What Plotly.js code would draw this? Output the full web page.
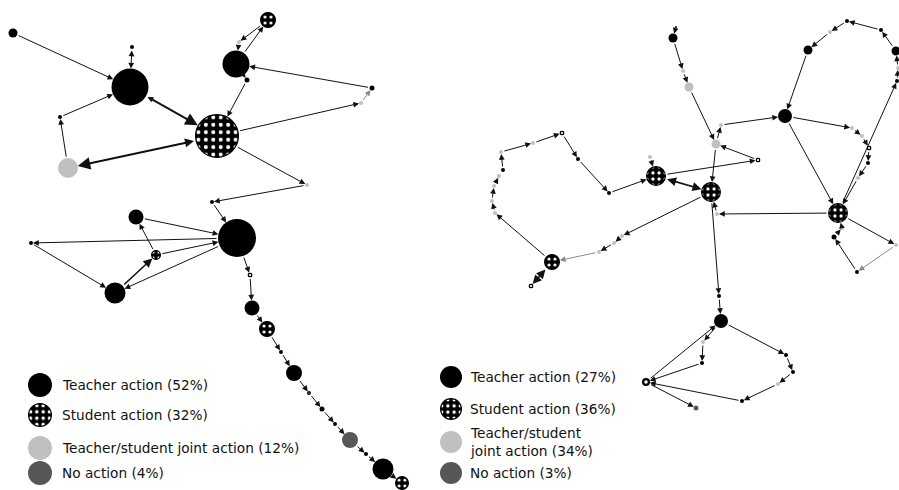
<!DOCTYPE html>
<html><head><meta charset="utf-8">
<script src="https://cdn.plot.ly/plotly-3.0.1.min.js"></script>
<style>html,body{margin:0;padding:0;background:#fff}#chart{width:899px;height:490px}</style>
</head><body><div id="chart"></div>
<script>
// ---- categories / legend ----
const categories = ['Teacher action','Student action','Teacher/student joint action','No action'];
const categoryCodes = ['T','S','J','N'];
const leftShares = [52,32,12,4];
const rightShares = [27,36,34,3];

// ---- nodes (layout coordinates, size = frequency, type) ----
const nodeId = ['A','B','C','D','E','F','G','H','I','J','K','L','M','N','O','P','Q','R','S','T','U','V','W','X','Y','Z','AA','AB','AC','AD','AE',
 'r1','r2','r3','r4','r5','r6','r7','r8','r9','r10','r11','r12','r13','r14','r15','r16','r17','r18','r19','r20','r21','r22','r23','r24','r25','r26','r27','r28','r29','r30','r31','r32','r33','r34','r35','r36','r37','r38','r39','r40','r41','r42','r43','r44','r45','r46','r47','r48','r49','r50','r51','r52','r53','r54'];
const nodeX = [13,130,132,60,68,217,236,268,239,247,372,361,307,212,237,136,31,156,115,250,252,267,281,294,309,322,335,350,366,383,402,
 676,673,683,689,716,721,785,758,650,656,711,717,838,719,609,578,562,533,501,503,499,494,492,495,552,531,599,614,622,808,830,847,881,896,898,897,852,862,869,868,858,842,834,896,857,721,703,702,646,742,696,786,793,778];
const nodeY = [33,87,47,117,168,136,64,20,42,80,88,103,185,202,238,217,243,255,293,275,308,329,352,373,393,409,424,440,454,469,483,
 27,38,71,87,144,125,116,160,157,176,192,214,213,296,193,159,133,143,152,170,176,186,201,213,262,286,252,243,236,50,32,21,30,51,68,81,128,136,148,163,178,228,237,245,272,321,342,363,382,401,408,355,372,384];
const nodeSize = [9,37,4,4,20,44,27,16,4,5,5,4,4,4,38,15,4,10,21,5,15,16,4,16,4,5,4,16,4,21,14,
 2,9,4,9,9,4,14,5,4,20,20,4,20,4,4,4,5,4,4,4,4,4,4,4,16,5,4,4,4,9,4,4,4,9,4,4,4,4,5,4,4,4,5,4,4,14,4,4,8,4,5,4,4,4];
const nodeType = ['T','T','T','T','J','S','T','S','J','T','T','J','J','T','T','T','T','S','T','S','T','S','T','T','S','T','T','N','T','T','S',
 'T','T','J','J','J','J','T','S','J','S','S','J','S','T','T','T','S','J','J','T','J','J','J','J','S','S','J','J','J','T','J','T','T','T','J','T','J','J','S','T','J','J','T','J','T','T','J','T','S','T','N','T','T','J'];

// ---- transitions (from, to, count, reverse count) ----
const edgeFrom = ['A','C','D','E','B','F','H','I','G','G','J','K','F','L','F','M','N','P','O','Q','S','R','R','O','O','T','U','V','W','X','Y','Z','AA','AB','AC','AD',
 'r1','r2','r3','r4','r5','r6','r8','r10','r9','r5','r10','r13','r12','r11','r14','r11','r29','r28','r27','r25','r24','r23','r22','r21','r20','r19','r18','r17','r16','r15','r25',
 'r7','r37','r38','r39','r40','r41','r7','r30','r31','r32','r33','r34','r35','r36','r13','r13','r44','r45','r43','r42','r46','r52','r53','r54','r50','r49','r46','r47','r48','r49'];
const edgeTo = ['B','B','B','D','F','E','I','G','H','J','F','G','L','K','M','N','O','O','Q','S','R','P','O','S','T','U','V','W','X','Y','Z','AA','AB','AC','AD','AE',
 'r2','r3','r4','r5','r6','r7','r5','r8','r10','r11','r11','r12','r11','r14','r46','r29','r28','r27','r25','r24','r23','r22','r21','r20','r19','r18','r17','r16','r15','r10','r26',
 'r37','r38','r39','r40','r41','r13','r13','r7','r30','r31','r32','r33','r34','r35','r36','r44','r45','r43','r42','r13','r52','r53','r54','r50','r49','r46','r47','r48','r49','r51'];
const edgeCount = [1,1,1,1,3,3,1,1,1,1,1,1,1,1,1,1,1,1,1,1,2,1,1,1,1,1,1,1,1,1,1,1,1,1,1,1,
 1,1,1,1,1,1,1,1,1,1,2,1,1,1,1,1,1,1,1,1,1,1,1,1,1,1,1,1,1,1,2,
 1,1,1,1,1,1,1,1,1,1,1,1,1,1,1,1,1,1,1,1,1,1,1,1,1,1,1,1,1,1];
const edgeBack = [0,1,0,0,1,2,0,0,0,0,0,0,0,0,0,0,0,0,0,0,0,0,0,0,0,0,0,0,0,0,0,0,0,0,0,0,
 0,0,0,0,0,0,0,0,0,0,2,0,0,0,0,0,0,0,0,0,0,0,0,0,0,0,0,0,0,0,2,
 0,0,0,0,0,0,0,0,0,0,0,0,0,0,0,0,0,0,0,0,0,0,0,0,0,0,0,0,0,0];
const fadedEdges = ['L>K','r27>r25','r44>r45'];

// ---- rendering ----
const idx = {}; nodeId.forEach((id,i)=>idx[id]=i);
const fill = {T:'#000000', S:'#000000', J:'#c0c0c0', N:'#575757'};

function patternSrc(d){
  const r = d/2;
  let body;
  if(d <= 8){
    const sw = Math.max(1.4, d*0.28);
    body = `<circle cx="${r}" cy="${r}" r="${r-sw/2}" fill="#fff" stroke="#000" stroke-width="${sw}"/>`;
  } else {
    const s = 5 + d/18, dot = s*0.27;
    body = `<defs><pattern id="p" patternUnits="userSpaceOnUse" x="${r}" y="${r}" width="${s}" height="${s}">`+
      `<rect width="${s}" height="${s}" fill="#000"/><circle cx="${s/2}" cy="${s/2}" r="${dot}" fill="#fff"/></pattern></defs>`+
      `<circle cx="${r}" cy="${r}" r="${r-0.6}" fill="url(#p)" stroke="#000" stroke-width="1.2"/>`;
  }
  const svg = `<svg xmlns="http://www.w3.org/2000/svg" width="${d}" height="${d}" viewBox="0 0 ${d} ${d}">${body}</svg>`;
  return 'data:image/svg+xml;charset=utf-8,' + encodeURIComponent(svg);
}

const plain = nodeId.map((_,i)=>i).filter(i=>nodeType[i] !== 'S');
const students = nodeId.map((_,i)=>i).filter(i=>nodeType[i] === 'S');

const traces = [{
  type:'scatter', mode:'markers', hoverinfo:'skip', showlegend:false,
  x: plain.map(i=>nodeX[i]), y: plain.map(i=>nodeY[i]),
  marker:{size: plain.map(i=>nodeSize[i]), color: plain.map(i=>fill[nodeType[i]]), opacity:1, line:{width:0}}
}];

const images = students.map(i=>({
  source: patternSrc(nodeSize[i]), xref:'x', yref:'y', x:nodeX[i], y:nodeY[i],
  sizex:nodeSize[i], sizey:nodeSize[i], xanchor:'center', yanchor:'middle', sizing:'stretch', layer:'above'
}));

function lineW(c){ return c>=3 ? 2 : (c===2 ? 1.6 : 1); }
function headScale(c){ return c>=3 ? 2.5 : (c===2 ? 1.8 : 1.15); }

const annotations = [];
edgeFrom.forEach((f,k)=>{
  const a = idx[f], b = idx[edgeTo[k]];
  const c = edgeCount[k], back = edgeBack[k];
  const lw = lineW(Math.max(c, back));
  const faded = fadedEdges.includes(f+'>'+edgeTo[k]);
  annotations.push({
    x:nodeX[b], y:nodeY[b], ax:nodeX[a], ay:nodeY[a],
    xref:'x', yref:'y', axref:'x', ayref:'y', text:'', showarrow:true,
    arrowhead:2, arrowsize: headScale(c)/lw, arrowwidth: lw,
    arrowcolor: faded ? '#8a8a8a' : '#111111',
    standoff: nodeSize[b]/2, startstandoff: nodeSize[a]/2,
    arrowside: back ? 'end+start' : 'end',
    startarrowhead:2, startarrowsize: headScale(back||1)/lw
  });
});

// legends
const legends = [
  {shares:leftShares, iconX:40, textX:60, rows:[385,415,448,473], d:24, wrap:false},
  {shares:rightShares, iconX:451, textX:468, rows:[377,409,442,473], d:22, wrap:true}
];
legends.forEach(L=>{
  const lx=[], ly=[], lc=[];
  categories.forEach((name,k)=>{
    const code = categoryCodes[k];
    if(code === 'S'){
      images.push({source: patternSrc(L.d), xref:'x', yref:'y', x:L.iconX, y:L.rows[k], sizex:L.d, sizey:L.d,
        xanchor:'center', yanchor:'middle', sizing:'stretch', layer:'above'});
    } else { lx.push(L.iconX); ly.push(L.rows[k]); lc.push(fill[code]); }
    let label = name + ' (' + L.shares[k] + '%)';
    if(L.wrap && name.indexOf('/')>0 && name.length > 20) label = label.replace('Teacher/student ', 'Teacher/student<br>');
    annotations.push({x:L.textX, y:L.rows[k], xref:'x', yref:'y', text:label, showarrow:false,
      xanchor:'left', yanchor:'middle', align:'left',
      font:{family:'DejaVu Sans, Verdana, sans-serif', size:13.7, color:'#111'}});
  });
  traces.push({type:'scatter', mode:'markers', hoverinfo:'skip', showlegend:false, x:lx, y:ly,
    marker:{size:L.d, color:lc, opacity:1, line:{width:0}}});
});

const layout = {
  width:899, height:490, margin:{l:0,r:0,t:0,b:0},
  paper_bgcolor:'#fff', plot_bgcolor:'#fff', showlegend:false,
  xaxis:{range:[0,899], visible:false, fixedrange:true},
  yaxis:{range:[490,0], visible:false, fixedrange:true},
  annotations, images
};
Plotly.newPlot('chart', traces, layout, {staticPlot:true, displayModeBar:false});
</script></body></html>
